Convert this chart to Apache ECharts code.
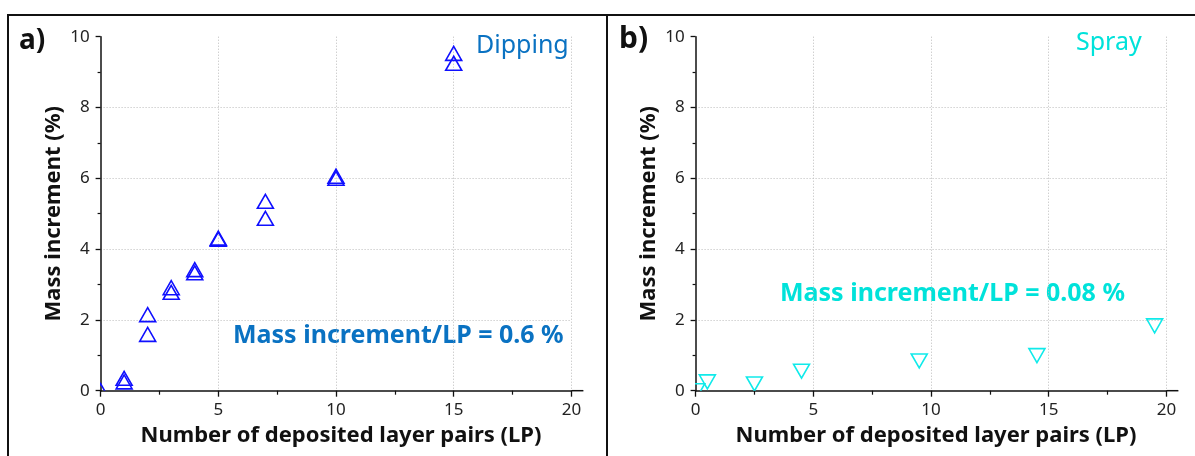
<!DOCTYPE html>
<html>
<head>
<meta charset="utf-8">
<script src="https://cdn.jsdelivr.net/npm/echarts@6/dist/echarts.min.js"></script>
<style>
html,body{margin:0;padding:0;background:#fff;}
#main{width:1195px;height:456px;}
</style>
</head>
<body>
<div id="main"></div>
<script>
// 数据
var dipX = [0, 1, 1, 2, 2, 3, 3, 4, 4, 5, 5, 7, 7, 10, 10, 15, 15];
var dipY = [0, 0.35, 0.25, 2.15, 1.59, 2.91, 2.78, 3.42, 3.33, 4.31, 4.28, 5.35, 4.87, 6.06, 6.0, 9.53, 9.25];
var sprayX = [0.05, 0.5, 2.5, 4.5, 9.5, 14.5, 19.5];
var sprayY = [0, 0.25, 0.19, 0.55, 0.84, 0.99, 1.83];

var FONT = 'Noto Sans';
var C_DIP = '#1010ff', C_SPRAY = '#10eaea';
var T_DIP = '#0a72c2', T_SPRAY = '#00e2da';
var GRID_TOP = 36.7, GRID_H = 354, GRID_W = 470.8;
var LEFT_A = 100.6, LEFT_B = 695.6;

function zip(xs, ys) {
	var out = [];
	for (var i = 0; i < xs.length; i++) out.push([xs[i], ys[i]]);
	return out;
}

// 三角形标记(裁剪到坐标系内)
function triSeries(idx, data, color, down) {
	return {
		type: 'custom',
		xAxisIndex: idx, yAxisIndex: idx,
		clip: true,
		data: data,
		renderItem: function (params, api) {
			var p = api.coord([api.value(0), api.value(1)]);
			var w = 8, h = 7;
			var pts = down
				? [[p[0] - w, p[1] - h], [p[0] + w, p[1] - h], [p[0], p[1] + h]]
				: [[p[0], p[1] - h], [p[0] + w, p[1] + h], [p[0] - w, p[1] + h]];
			return {
				type: 'polygon',
				shape: { points: pts },
				style: { fill: 'none', stroke: color, lineWidth: 1.6 }
			};
		}
	};
}

function xAxisCfg(idx) {
	return {
		type: 'value', gridIndex: idx, min: 0, max: 20, interval: 5,
		name: 'Number of deposited layer pairs (LP)',
		nameLocation: 'middle', nameGap: 34,
		nameTextStyle: { fontFamily: FONT, fontWeight: 'bold', fontSize: 22, color: '#111', padding: [0, 0, 0, 10] },
		axisLine: { lineStyle: { color: '#111', width: 1.5 } },
		axisTick: { show: true, length: 6, lineStyle: { color: '#111', width: 1.3 } },
		minorTick: { show: true, splitNumber: 2, length: 4, lineStyle: { color: '#111', width: 1.2 } },
		axisLabel: { fontFamily: FONT, fontSize: 17, color: '#222', margin: 11 },
		splitLine: { show: true, showMinLine: false, showMaxLine: true, lineStyle: { color: '#bbb', type: [1, 2], width: 1 } }
	};
}

function yAxisCfg(idx) {
	return {
		type: 'value', gridIndex: idx, min: 0, max: 10, interval: 2,
		name: 'Mass increment (%)',
		nameLocation: 'middle', nameGap: 36,
		nameTextStyle: { fontFamily: FONT, fontWeight: 'bold', fontSize: 22, color: '#111' },
		axisLine: { show: true, lineStyle: { color: '#111', width: 1.5 } },
		axisTick: { show: true, length: 5, lineStyle: { color: '#111', width: 1.3 } },
		minorTick: { show: true, splitNumber: 2, length: 3, lineStyle: { color: '#111', width: 1.2 } },
		axisLabel: { fontFamily: FONT, fontSize: 17, color: '#222', margin: 11 },
		splitLine: { show: true, showMinLine: false, showMaxLine: false, lineStyle: { color: '#bbb', type: [1, 2], width: 1 } }
	};
}

// x轴线超出 20 的一小段
function axisExt(left) {
	var y = GRID_TOP + GRID_H;
	return { type: 'line', shape: { x1: left + GRID_W, y1: y, x2: left + GRID_W + 12, y2: y }, style: { stroke: '#111', lineWidth: 1.5 } };
}

var chart = echarts.init(document.getElementById('main'), null, { renderer: 'canvas' });
chart.setOption({
	animation: false,
	backgroundColor: '#fff',
	grid: [
		{ left: LEFT_A, top: GRID_TOP, width: GRID_W, height: GRID_H },
		{ left: LEFT_B, top: GRID_TOP, width: GRID_W, height: GRID_H }
	],
	xAxis: [xAxisCfg(0), xAxisCfg(1)],
	yAxis: [yAxisCfg(0), yAxisCfg(1)],
	series: [
		triSeries(0, zip(dipX, dipY), C_DIP, false),
		triSeries(1, zip(sprayX, sprayY), C_SPRAY, true)
	],
	graphic: [
		// 外框
		{ type: 'polyline', shape: { points: [[8, 456], [8, 15], [1195, 15]] }, style: { stroke: '#111', lineWidth: 2, fill: 'none' } },
		{ type: 'line', shape: { x1: 607, y1: 15, x2: 607, y2: 456 }, style: { stroke: '#111', lineWidth: 2 } },
		axisExt(LEFT_A),
		axisExt(LEFT_B),
		{ type: 'text', left: 19, top: 27, style: { text: 'a)', fontFamily: FONT, fontWeight: 'bold', fontSize: 28, fill: '#111' } },
		{ type: 'text', left: 619, top: 24, style: { text: 'b)', fontFamily: FONT, fontWeight: 'bold', fontSize: 30, fill: '#111' } },
		{ type: 'text', left: 476, top: 33, style: { text: 'Dipping', fontFamily: FONT, fontSize: 25, fill: T_DIP } },
		{ type: 'text', left: 233, top: 323, style: { text: 'Mass increment/LP = 0.6 %', fontFamily: FONT, fontWeight: 'bold', fontSize: 25, fill: T_DIP } },
		{ type: 'text', left: 1076, top: 30, style: { text: 'Spray', fontFamily: FONT, fontSize: 25, fill: T_SPRAY } },
		{ type: 'text', left: 780, top: 281, style: { text: 'Mass increment/LP = 0.08 %', fontFamily: FONT, fontWeight: 'bold', fontSize: 25, fill: T_SPRAY } }
	]
});
</script>
</body>
</html>
